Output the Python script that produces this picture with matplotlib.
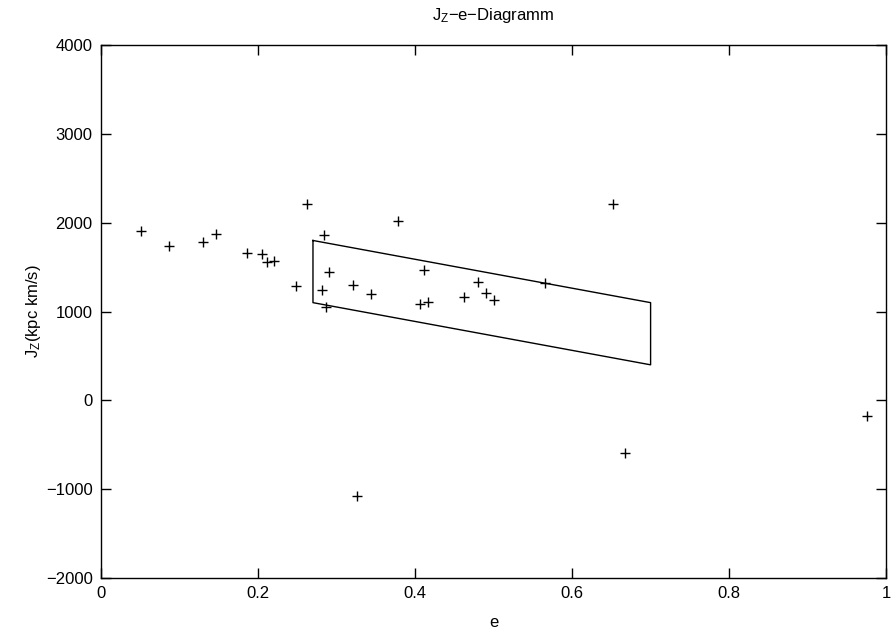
import matplotlib
matplotlib.use('Agg')
import matplotlib.pyplot as plt

plt.rcParams['font.family'] = ['Liberation Sans', 'DejaVu Sans']
plt.rcParams['mathtext.fontset'] = 'custom'
plt.rcParams['mathtext.rm'] = 'Liberation Sans'

# measured stars: eccentricity e and J_z (kpc km/s)
e = [0.051, 0.086, 0.130, 0.147, 0.186, 0.205, 0.212, 0.220, 0.248, 0.263,
     0.284, 0.282, 0.291, 0.287, 0.378, 0.321, 0.344, 0.412, 0.406, 0.417,
     0.462, 0.480, 0.491, 0.500, 0.565, 0.652, 0.667, 0.326, 0.975]
jz = [1910, 1735, 1780, 1870, 1659, 1652, 1562, 1569, 1288, 2211,
      1859, 1246, 1445, 1055, 2023, 1303, 1198, 1465, 1085, 1111,
      1160, 1329, 1209, 1130, 1318, 2208, -596, -1076, -172]

# selection box
box_e = [0.27, 0.7, 0.7, 0.27, 0.27]
box_jz = [1800, 1100, 400, 1100, 1800]

fig = plt.figure(figsize=(8.96, 6.35), dpi=100)
ax = fig.add_axes([0.1127, 0.0898, 0.8763, 0.8392])

ax.plot(e, jz, '+', color='black', markersize=7, markeredgewidth=1.0)
ax.plot(box_e, box_jz, '-', color='black', linewidth=1.0)

ax.set_xlim(0, 1)
ax.set_ylim(-2000, 4000)
ax.set_xticks([0, 0.2, 0.4, 0.6, 0.8, 1])
ax.set_xticklabels(['0', '0.2', '0.4', '0.6', '0.8', '1'])
ax.set_yticks(range(-2000, 4001, 1000))
ax.set_yticklabels(['\u22122000', '\u22121000', '0', '1000', '2000', '3000', '4000'])
ax.tick_params(direction='in', length=7, width=1, top=True, right=True,
               labelsize=12, pad=6)
for s in ax.spines.values():
    s.set_linewidth(1.0)

ax.set_xlabel('e', fontsize=12, labelpad=10)
ax.set_ylabel(r'$\mathregular{J_Z}$(kpc km/s)', fontsize=12, labelpad=2)
ax.set_title(r'$\mathregular{J_Z}$' + '\u2212e\u2212Diagramm', fontsize=12, pad=18)

fig.savefig('out.png', dpi=100)
